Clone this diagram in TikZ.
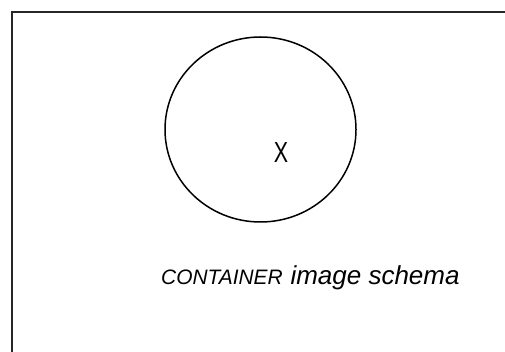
\documentclass[tikz,border=0pt]{standalone}
\usepackage{fontspec}
\usetikzlibrary{shapes.geometric}
\setmainfont{Liberation Sans}
\begin{document}
\begin{tikzpicture}[x=1pt,y=-1pt,
  frame/.style={line width=2pt,draw=black!85},
  region/.style={ellipse,draw=black,line width=1.5pt,inner sep=0pt,
    minimum width=191pt,minimum height=185pt},
  member/.style={inner sep=0pt,font=\fontsize{29}{29}\selectfont},
  caption/.style={inner sep=0pt,anchor=base west}]
  \useasboundingbox (0,0) rectangle (505,352);
  % open frame: top and left edges only
  \coordinate (corner) at (12,12);
  \coordinate (topend) at (505,12);
  \coordinate (leftend) at (12,352);
  \draw[frame] (topend) -- (corner) -- (leftend);
  % the container
  \node[region] (c) at (260.5,129.5) {};
  % the contained entity
  \node[member, xscale=0.74] (x) at (281,152.5) {X};
  % caption
  \node[caption] (cap) at (161,284)
    {\itshape{\fontsize{20.9}{21}\selectfont CONTAINER}\hspace{5pt} {\fontsize{26}{26}\selectfont image schema}};
\end{tikzpicture}
\end{document}
